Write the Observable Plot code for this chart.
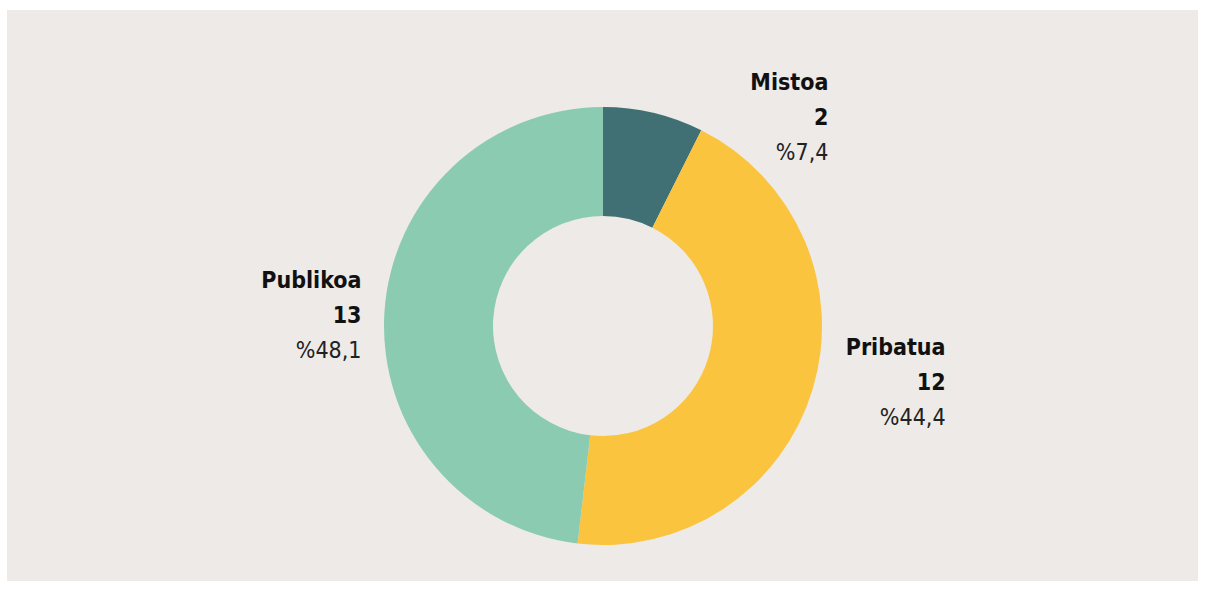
<!DOCTYPE html>
<html>
<head>
<meta charset="utf-8">
<script src="https://cdn.jsdelivr.net/npm/d3@7"></script>
<script src="https://cdn.jsdelivr.net/npm/@observablehq/plot@0.6"></script>
<style>
  html, body { margin: 0; padding: 0; background: #ffffff; }
  #chart { position: absolute; left: 7px; top: 10px; width: 1191px; height: 571px; background: #edeae7; }
  #chart svg { display: block; background: transparent; }
</style>
</head>
<body>
<div id="chart"></div>
<script>
// ---- data ----
const categories = ["Mistoa", "Pribatua", "Publikoa"];
const counts = [2, 12, 13];
const percentLabels = ["%7,4", "%44,4", "%48,1"];
const colors = ["#407073", "#fbc43f", "#8bcbb1"];

// ---- layout (unit space: outer radius = 1) ----
const W = 1191, H = 571, R = 219, CX = 596, CY = 316;
const innerRatio = 110 / 219;
const labelAnchors = { // middle-line anchor, in radius units from centre
  "Mistoa": [1.027, 0.922],
  "Pribatua": [1.562, -0.288],
  "Publikoa": [-1.105, 0.018]
};

const slices = categories.map((c, i) => ({category: c, value: counts[i], pct: percentLabels[i], color: colors[i]}));
const labels = slices.map(d => ({...d, lx: labelAnchors[d.category][0], ly: labelAnchors[d.category][1]}));

const donut = (index, scales, values, dimensions, context) => {
  const x0 = scales.x(0), y0 = scales.y(0);
  const rOut = scales.x(1) - x0;
  const rIn = scales.x(innerRatio) - x0;
  const pie = d3.pie().sort(null).value(d => d.value)(slices);
  const arc = d3.arc().innerRadius(rIn).outerRadius(rOut);
  const g = d3.create("svg:g").attr("transform", `translate(${x0},${y0})`);
  g.selectAll("path").data(pie).join("path")
    .attr("d", arc)
    .attr("fill", d => d.data.color);
  return g.node();
};

const font = "'Liberation Sans Narrow', 'DejaVu Sans Condensed', 'Roboto', sans-serif";
const fs = 23;

const chart = Plot.plot({
  width: W,
  height: H,
  margin: 0,
  x: {domain: [-CX / R, (W - CX) / R], axis: null},
  y: {domain: [-(H - CY) / R, CY / R], axis: null},
  style: {fontFamily: font, background: "transparent"},
  marks: [
    donut,
    Plot.text(labels, {x: "lx", y: "ly", text: "category", textAnchor: "end", lineAnchor: "bottom", dy: -35, fontSize: fs, fontWeight: "bold", fill: "#111111"}),
    Plot.text(labels, {x: "lx", y: "ly", text: d => String(d.value), textAnchor: "end", lineAnchor: "bottom", dy: 0, fontSize: fs, fontWeight: "bold", fill: "#111111"}),
    Plot.text(labels, {x: "lx", y: "ly", text: "pct", textAnchor: "end", lineAnchor: "bottom", dy: 35, fontSize: fs, fontWeight: "normal", fill: "#222222"})
  ]
});
document.getElementById("chart").appendChild(chart);
</script>
</body>
</html>
